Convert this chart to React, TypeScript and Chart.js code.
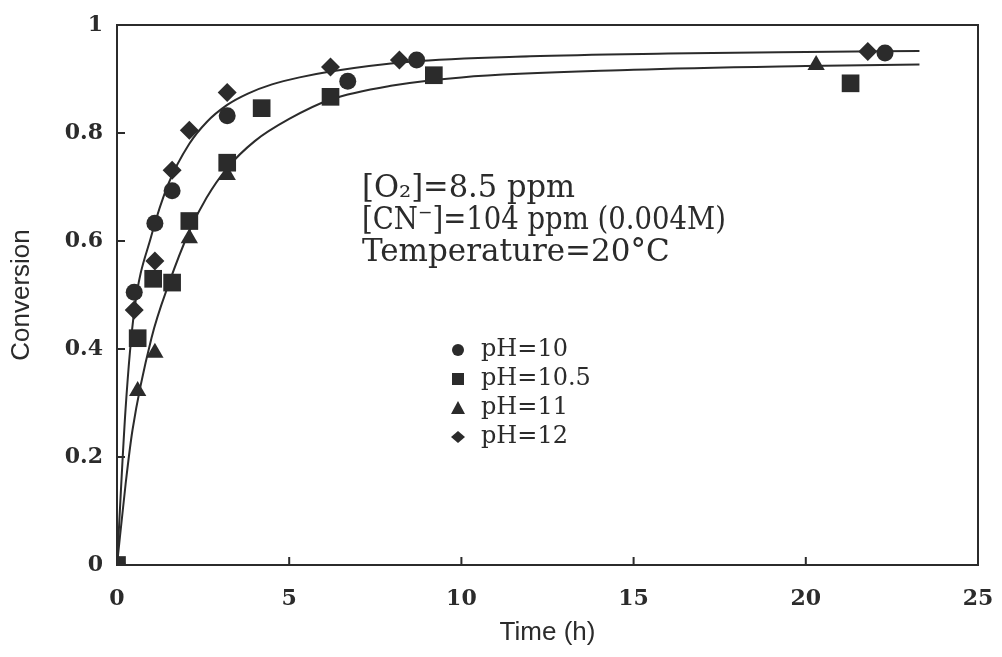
import React, { useEffect, useRef } from 'react';
import { Chart, registerables } from 'chart.js';

Chart.register(...registerables);

// Tick values
const xTicks = [0, 5, 10, 15, 20, 25];
const yTicks = [0, 0.2, 0.4, 0.6, 0.8, 1];
const yTickLabels = ['0', '0.2', '0.4', '0.6', '0.8', '1'];

// Measured points
const ph10X = [0, 0.5, 1.1, 1.6, 3.2, 6.7, 8.7, 22.3];
const ph10Y = [0, 0.505, 0.633, 0.693, 0.832, 0.896, 0.935, 0.948];
const ph105X = [0, 0.6, 1.05, 1.6, 2.1, 3.2, 4.2, 6.2, 9.2, 21.3];
const ph105Y = [0, 0.42, 0.53, 0.523, 0.637, 0.745, 0.846, 0.867, 0.907, 0.892];
const ph11X = [0, 0.6, 1.1, 2.1, 3.2, 20.3];
const ph11Y = [0, 0.322, 0.393, 0.605, 0.722, 0.926];
const ph12X = [0, 0.5, 1.1, 1.6, 2.1, 3.2, 6.2, 8.2, 21.8];
const ph12Y = [0, 0.472, 0.563, 0.731, 0.805, 0.875, 0.922, 0.935, 0.951];

// Fitted curves
const fitUpperX = [0, 0.25, 0.5, 1, 1.5, 2.1, 2.6, 3.2, 3.8, 4.5, 5.3, 6.2, 8.5, 12, 16, 20, 23.3];
const fitUpperY = [0, 0.29, 0.47, 0.61, 0.707, 0.78, 0.82, 0.852, 0.873, 0.89, 0.903, 0.914, 0.932, 0.942, 0.947, 0.95, 0.952];
const fitLowerX = [0, 0.25, 0.45, 1, 1.5, 2.1, 2.6, 3.2, 4, 5, 6.2, 8, 10, 15, 20, 23.3];
const fitLowerY = [0, 0.15, 0.25, 0.42, 0.52, 0.618, 0.68, 0.735, 0.785, 0.826, 0.862, 0.888, 0.903, 0.917, 0.924, 0.927];

const legendLabels = ['pH=10', 'pH=10.5', 'pH=11', 'pH=12'];
const legendStyles = ['circle', 'rect', 'triangle', 'diamond'];
const noteLines = ['[O₂]=8.5 ppm', '[CN⁻]=104 ppm (0.004M)', 'Temperature=20°C'];

const INK = '#2b2b2b';

const zip = (xs: number[], ys: number[]) => xs.map((x, i) => ({ x, y: ys[i] }));

const decorPlugin = {
  id: 'decor',
  beforeDatasetsDraw(chart: any) {
    const { ctx, chartArea: a, scales } = chart;
    ctx.save();
    ctx.strokeStyle = INK;
    ctx.lineWidth = 2;
    ctx.strokeRect(a.left, a.top, a.right - a.left, a.bottom - a.top);
    ctx.beginPath();
    yTicks.forEach((v) => {
      const py = scales.y.getPixelForValue(v);
      ctx.moveTo(a.left, py);
      ctx.lineTo(a.left + 8, py);
    });
    xTicks.forEach((v) => {
      const px = scales.x.getPixelForValue(v);
      ctx.moveTo(px, a.bottom);
      ctx.lineTo(px, a.bottom - 8);
    });
    ctx.stroke();
    ctx.restore();
  },
  afterDraw(chart: any) {
    const { ctx } = chart;
    ctx.save();
    ctx.fillStyle = INK;
    ctx.textBaseline = 'middle';
    ctx.textAlign = 'left';
    ctx.font = '31px "DejaVu Serif"';
    const noteY = [189, 221, 253];
    const noteW = [213, 364, 321];
    noteLines.forEach((t, i) => ctx.fillText(t, 362, noteY[i], noteW[i]));

    ctx.font = '24px "DejaVu Serif"';
    const rowY = [350, 379, 408, 437];
    const mx = 458;
    legendLabels.forEach((t, i) => {
      const y = rowY[i];
      ctx.fillText(t, 481, y);
      ctx.beginPath();
      const s = legendStyles[i];
      if (s === 'circle') {
        ctx.arc(mx, y, 6, 0, Math.PI * 2);
      } else if (s === 'rect') {
        ctx.rect(mx - 6, y - 6, 12, 12);
      } else if (s === 'triangle') {
        ctx.moveTo(mx, y - 7);
        ctx.lineTo(mx + 7, y + 6);
        ctx.lineTo(mx - 7, y + 6);
        ctx.closePath();
      } else {
        ctx.moveTo(mx, y - 6);
        ctx.lineTo(mx + 7, y);
        ctx.lineTo(mx, y + 6);
        ctx.lineTo(mx - 7, y);
        ctx.closePath();
      }
      ctx.fill();
    });
    ctx.restore();
  },
};

export default function App() {
  const ref = useRef<HTMLCanvasElement | null>(null);

  useEffect(() => {
    document.body.style.margin = '0';
    if (!ref.current) return;
    const pointBase = {
      backgroundColor: INK,
      borderColor: INK,
      borderWidth: 0,
      showLine: false,
    };
    const lineBase = {
      showLine: true,
      pointRadius: 0,
      borderColor: INK,
      borderWidth: 2,
      cubicInterpolationMode: 'monotone' as const,
      fill: false,
      order: 10,
    };
    const tickFont = { family: 'DejaVu Serif', size: 22, weight: 'bold' as const };
    const chart = new Chart(ref.current, {
      type: 'scatter',
      data: {
        datasets: [
          { ...lineBase, label: 'fit upper', data: zip(fitUpperX, fitUpperY) },
          { ...lineBase, label: 'fit lower', data: zip(fitLowerX, fitLowerY) },
          { ...pointBase, label: 'pH=10', data: zip(ph10X, ph10Y), pointStyle: 'circle', pointRadius: 8.5, order: 2 },
          { ...pointBase, label: 'pH=10.5', data: zip(ph105X, ph105Y), pointStyle: 'rect', pointRadius: 12.5, order: 0 },
          { ...pointBase, label: 'pH=11', data: zip(ph11X, ph11Y), pointStyle: 'triangle', pointRadius: 10, order: 3 },
          { ...pointBase, label: 'pH=12', data: zip(ph12X, ph12Y), pointStyle: 'rectRot', pointRadius: 9.5, order: 1 },
        ],
      },
      options: {
        animation: false,
        responsive: true,
        maintainAspectRatio: false,
        layout: { padding: { top: 25, right: 24, left: 0, bottom: 0 } },
        plugins: { legend: { display: false }, tooltip: { enabled: false } },
        scales: {
          x: {
            type: 'linear',
            min: 0,
            max: 25,
            afterBuildTicks: (s: any) => {
              s.ticks = xTicks.map((v) => ({ value: v }));
            },
            afterFit: (s: any) => {
              s.height = 92;
              s.paddingRight = 0;
              s.paddingLeft = 0;
            },
            grid: { display: false, drawTicks: false },
            border: { display: false },
            ticks: {
              padding: 21,
              color: INK,
              font: tickFont,
              maxRotation: 0,
              callback: (v: any) => String(v),
            },
            title: {
              display: true,
              text: 'Time (h)',
              color: INK,
              font: { family: 'Liberation Sans', size: 26 },
              padding: { top: 0, bottom: 9 },
            },
          },
          y: {
            type: 'linear',
            min: 0,
            max: 1,
            afterBuildTicks: (s: any) => {
              s.ticks = yTicks.map((v) => ({ value: v }));
            },
            afterFit: (s: any) => {
              s.width = 117;
              s.paddingTop = 0;
              s.paddingBottom = 0;
            },
            grid: { display: false, drawTicks: false },
            border: { display: false },
            ticks: {
              padding: 14,
              color: INK,
              font: tickFont,
              callback: (v: any) => {
                const i = yTicks.findIndex((t) => Math.abs(t - Number(v)) < 1e-9);
                return i >= 0 ? yTickLabels[i] : '';
              },
            },
            title: {
              display: true,
              text: 'Conversion',
              color: INK,
              font: { family: 'Liberation Sans', size: 26 },
              padding: { top: 6, bottom: 0 },
            },
          },
        },
      },
      plugins: [decorPlugin],
    });
    return () => chart.destroy();
  }, []);

  return (
    <div style={{ position: 'absolute', left: 0, top: 0, width: 1002, height: 657 }}>
      <canvas ref={ref} />
    </div>
  );
}
